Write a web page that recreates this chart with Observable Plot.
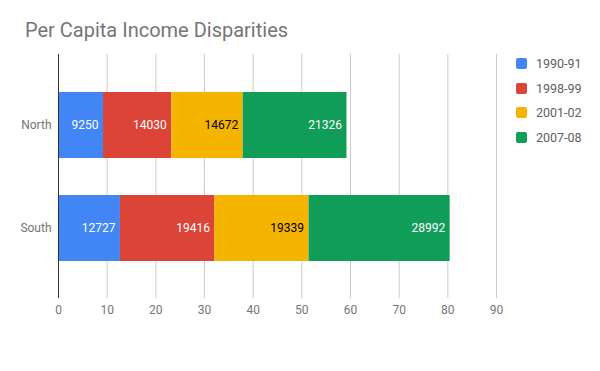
<!DOCTYPE html>
<html><head><meta charset="utf-8">
<script src="https://cdn.jsdelivr.net/npm/d3@7"></script>
<script src="https://cdn.jsdelivr.net/npm/@observablehq/plot@0.6"></script>
<style>
body{margin:0;background:#fff;font-family:Roboto,sans-serif;}
#wrap{position:relative;width:600px;height:371px;}
#title{position:absolute;left:25px;top:18px;font-size:20px;color:#757575;white-space:nowrap;}
#legend{position:absolute;left:516px;top:51px;font-size:12.5px;color:#616161;}
.li{display:flex;align-items:center;height:24.7px;}
.sw{width:11px;height:11px;border-radius:2px;margin-right:9px;}
</style></head>
<body><div id="wrap"><div id="title">Per Capita Income Disparities</div><div id="legend"></div></div>
<script>
const regions = ["North", "South"];
const periods = ["1990-91", "1998-99", "2001-02", "2007-08"];
const northValues = [9250, 14030, 14672, 21326];
const southValues = [12727, 19416, 19339, 28992];
const colors = ["#4285F4", "#DB4437", "#F4B400", "#0F9D58"];
const xTicks = [0, 10, 20, 30, 40, 50, 60, 70, 80, 90];

const series = {North: northValues, South: southValues};
const data = [];
for (const r of regions) periods.forEach((p, i) => data.push({region: r, period: p, value: series[r][i]}));

const chart = Plot.plot({
  width: 600, height: 371,
  marginLeft: 58, marginRight: 104, marginTop: 54, marginBottom: 73,
  style: {fontFamily: "Roboto, sans-serif", fontSize: "12px", color: "#757575", background: "white"},
  x: {domain: [0, 90], ticks: xTicks, label: null, tickSize: 0, tickPadding: 7},
  y: {domain: regions, label: null, tickSize: 0, tickPadding: 7, padding: 0.36},
  color: {domain: periods, range: colors},
  marks: [
    Plot.gridX(xTicks, {stroke: "#cccccc", strokeOpacity: 1}),
    Plot.barX(data, Plot.stackX({x: d => d.value / 1000, y: "region", fill: "period", order: periods})),
    Plot.text(data, Plot.stackX2({x: d => d.value / 1000, y: "region", z: "period", order: periods,
      text: d => String(d.value), textAnchor: "end", dx: -5,
      fill: d => d.period === "2001-02" ? "#000000" : "#ffffff", fontSize: 12})),
    Plot.ruleX([0], {stroke: "#333333"})
  ]
});
chart.style.position = "absolute"; chart.style.left = "0"; chart.style.top = "0";
const wrap = document.getElementById("wrap");
wrap.insertBefore(chart, wrap.firstChild);

const legend = document.getElementById("legend");
periods.forEach((p, i) => {
  const li = document.createElement("div"); li.className = "li";
  const sw = document.createElement("div"); sw.className = "sw"; sw.style.background = colors[i];
  const t = document.createElement("span"); t.textContent = p;
  li.appendChild(sw); li.appendChild(t); legend.appendChild(li);
});
</script></body></html>
